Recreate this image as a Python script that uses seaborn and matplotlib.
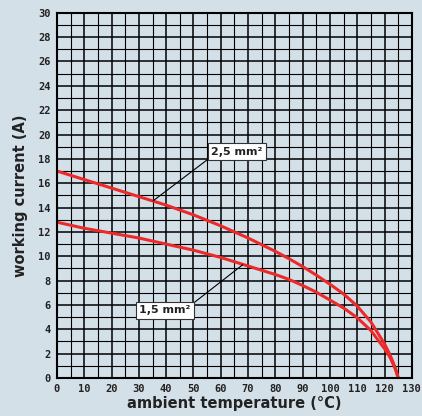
import matplotlib.pyplot as plt
import numpy as np
import pandas as pd
import seaborn as sns

# values
temp_25 = [0, 10, 20, 30, 40, 50, 60, 70, 80, 85, 90, 95, 100, 105, 110, 115, 120, 122, 124, 125]
curr_25 = [17.0, 16.3, 15.6, 14.9, 14.2, 13.4, 12.5, 11.5, 10.4, 9.8, 9.15, 8.45, 7.7, 6.9, 5.9, 4.6, 2.8, 1.9, 0.8, 0.0]
temp_15 = [0, 10, 20, 30, 40, 50, 60, 70, 80, 85, 90, 95, 100, 105, 110, 115, 120, 122, 124, 125]
curr_15 = [12.8, 12.3, 11.9, 11.5, 11.0, 10.5, 9.9, 9.2, 8.5, 8.1, 7.6, 7.05, 6.4, 5.75, 4.95, 3.9, 2.4, 1.7, 0.7, 0.0]

bg = "#d4e0e8"
red = "#ec2a2a"

df = pd.concat([
    pd.DataFrame({"temp": temp_25, "current": curr_25, "section": "2,5 mm²"}),
    pd.DataFrame({"temp": temp_15, "current": curr_15, "section": "1,5 mm²"}),
])

sns.set_style("white")
fig = plt.figure(figsize=(4.22, 4.16), dpi=100, facecolor=bg)
ax = fig.add_axes([0.135, 0.0913, 0.841, 0.878])
ax.set_facecolor(bg)

# grid first
ax.set_xlim(0, 130)
ax.set_ylim(0, 30)
ax.set_xticks(np.arange(0, 131, 10))
ax.set_yticks(np.arange(0, 31, 2))
ax.set_xticks(np.arange(0, 131, 5), minor=True)
ax.set_yticks(np.arange(0, 31, 1), minor=True)
ax.grid(which="major", color="black", linewidth=1.1)
ax.grid(which="minor", color="black", linewidth=0.8)
ax.set_axisbelow(True)

sns.lineplot(data=df, x="temp", y="current", hue="section",
             palette=[red, red], linewidth=2.2, sort=False, legend=False, ax=ax)

for sp in ax.spines.values():
    sp.set_color("black")
    sp.set_linewidth(1.5)

tick_font = dict(family="DejaVu Sans Mono", weight="bold", size=7.5)
ax.set_xticklabels([str(v) for v in range(0, 131, 10)], fontdict=tick_font, color="#222222")
ax.set_yticklabels([str(v) for v in range(0, 31, 2)], fontdict=tick_font, color="#222222")
ax.tick_params(which="major", length=3, width=1, color="black", pad=1.5)
ax.tick_params(which="minor", length=0)

ax.set_xlabel("ambient temperature (°C)", fontsize=10.5, fontweight="bold",
              color="#222222", labelpad=1)
ax.set_ylabel("working current (A)", fontsize=10.5, fontweight="bold",
              color="#222222", labelpad=7)

box = dict(boxstyle="square,pad=0.3", facecolor="white", edgecolor="#333333", linewidth=0.8)
ax.annotate("2,5 mm²", xy=(35.2, 14.55), xytext=(66, 18.6), ha="center", va="center",
            fontsize=8, fontweight="bold", color="#222222", bbox=box,
            arrowprops=dict(arrowstyle="-", color="black", linewidth=0.8,
                            shrinkA=0, shrinkB=0, relpos=(0, 0)))
ax.annotate("1,5 mm²", xy=(68, 9.3), xytext=(39.5, 5.55), ha="center", va="center",
            fontsize=8, fontweight="bold", color="#222222", bbox=box,
            arrowprops=dict(arrowstyle="-", color="black", linewidth=0.8,
                            shrinkA=0, shrinkB=0, relpos=(1, 1)))

fig.savefig("out.png", dpi=100, facecolor=bg)
